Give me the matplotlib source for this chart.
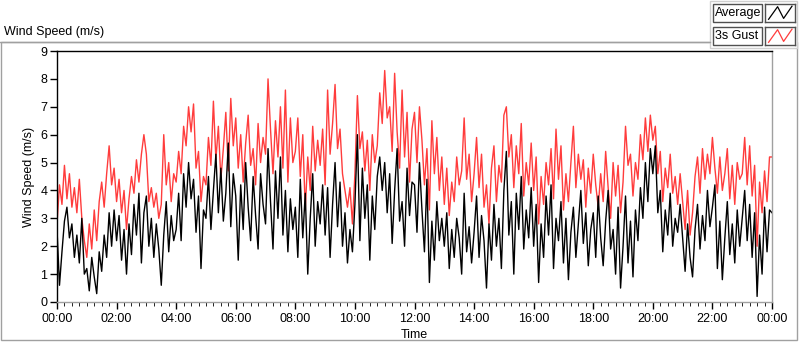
import matplotlib

matplotlib.use("Agg")
import matplotlib.pyplot as plt  # noqa: E402
import numpy as np  # noqa: E402
from matplotlib.lines import Line2D  # noqa: E402
from matplotlib.patches import Rectangle  # noqa: E402
from matplotlib.ticker import FuncFormatter, MultipleLocator  # noqa: E402

plt.rcParams["font.family"] = ["Liberation Sans", "DejaVu Sans"]

# one reading every 5 minutes, 00:00 -> 24:00
SAMPLE_MIN = 5
AVERAGE = [
    2.6, 0.6, 1.8, 2.9, 3.4, 2.3, 2.8, 1.6, 2.4, 1.4, 3.0, 1.0,  # 00h
    1.2, 0.4, 1.6, 0.9, 0.3, 1.8, 1.1, 2.4, 1.6, 3.2, 2.0, 3.3,  # 01h
    2.2, 3.1, 1.5, 2.6, 1.0, 2.8, 1.7, 3.5, 2.4, 3.9, 1.4, 3.2,  # 02h
    3.8, 2.0, 3.0, 1.6, 2.8, 1.9, 0.6, 2.4, 3.6, 1.8, 3.1, 2.2,  # 03h
    2.6, 3.9, 2.2, 4.6, 3.4, 5.0, 3.7, 4.4, 2.5, 3.8, 1.2, 3.3,  # 04h
    3.0, 4.5, 2.6, 4.0, 5.3, 3.2, 4.8, 2.9, 3.9, 5.7, 2.7, 4.6,  # 05h
    3.8, 1.5, 4.2, 2.6, 5.0, 3.4, 2.2, 4.5, 3.1, 1.9, 4.6, 3.5,  # 06h
    2.8, 5.5, 3.6, 1.9, 4.7, 3.0, 5.2, 2.4, 4.0, 1.8, 3.7, 2.6,  # 07h
    3.4, 1.6, 4.4, 2.3, 3.9, 1.0, 3.0, 4.6, 2.0, 3.6, 2.8, 4.2,  # 08h
    2.4, 4.1, 1.6, 3.5, 5.0, 2.7, 4.3, 2.0, 3.2, 1.4, 2.6, 1.8,  # 09h
    3.5, 6.0, 2.2, 4.8, 3.0, 4.2, 1.5, 3.8, 2.6, 4.5, 5.2, 4.0,  # 10h
    5.0, 3.2, 4.6, 2.1, 4.0, 5.5, 2.9, 3.6, 2.0, 4.8, 3.1, 4.3,  # 11h
    4.2, 2.5, 5.0, 3.3, 1.8, 4.4, 0.7, 2.9, 1.5, 3.6, 2.2, 3.0,  # 12h
    2.0, 3.2, 1.2, 2.6, 1.6, 3.0, 2.3, 1.0, 3.9, 1.8, 2.7, 1.4,  # 13h
    2.5, 3.8, 1.6, 3.1, 2.2, 0.5, 2.8, 1.5, 3.5, 2.0, 3.0, 1.2,  # 14h
    4.0, 5.4, 2.4, 3.6, 1.0, 3.9, 2.6, 4.5, 1.9, 3.3, 2.3, 4.1,  # 15h
    2.0, 3.5, 0.7, 2.8, 1.6, 3.8, 2.4, 4.2, 1.2, 3.0, 2.2, 3.6,  # 16h
    1.4, 3.0, 0.8, 2.5, 3.4, 1.6, 2.8, 4.0, 2.1, 3.2, 1.3, 2.6,  # 17h
    3.2, 1.6, 3.8, 2.3, 1.3, 2.9, 4.0, 1.9, 2.6, 1.0, 3.4, 0.5,  # 18h
    2.0, 3.8, 1.4, 2.9, 0.9, 3.3, 2.2, 4.1, 3.0, 5.0, 3.6, 5.5,  # 19h
    4.6, 5.6, 3.2, 4.0, 1.8, 3.3, 2.4, 3.9, 2.0, 3.0, 2.5, 3.5,  # 20h
    2.3, 1.1, 2.8, 1.6, 0.9, 2.6, 3.5, 1.9, 3.1, 2.2, 4.0, 2.7,  # 21h
    3.4, 4.2, 1.2, 2.9, 0.8, 2.3, 3.6, 1.7, 2.8, 1.4, 3.3, 2.0,  # 22h
    3.0, 4.0, 2.2, 3.5, 1.6, 3.2, 0.2, 2.4, 1.0, 3.4, 1.8, 3.3,  # 23h
    3.2,
]
GUST = [
    2.8, 4.2, 3.5, 4.9, 3.7, 4.6, 3.4, 4.1, 3.2, 4.4, 3.0, 2.2,  # 00h
    1.6, 2.8, 1.9, 3.3, 2.2, 3.6, 4.3, 3.4, 4.6, 5.6, 4.2, 4.8,  # 01h
    3.6, 4.4, 3.2, 4.0, 2.6, 3.7, 4.5, 3.9, 5.1, 4.3, 5.3, 6.0,  # 02h
    5.3, 3.6, 4.1, 3.4, 3.9, 3.0, 3.5, 6.0, 4.2, 5.0, 3.6, 4.6,  # 03h
    4.3, 5.4, 4.6, 6.3, 5.6, 7.0, 6.1, 7.1, 4.8, 5.4, 3.6, 4.5,  # 04h
    4.2, 5.9, 4.9, 7.2, 5.1, 6.3, 4.4, 5.5, 6.8, 4.7, 7.3, 5.6,  # 05h
    6.6, 4.8, 6.0, 4.3, 5.7, 6.7, 4.9, 5.5, 4.2, 6.4, 5.0, 5.9,  # 06h
    5.3, 8.0, 6.2, 4.6, 6.5, 5.2, 7.0, 4.8, 7.6, 4.3, 6.6, 5.0,  # 07h
    5.4, 6.6, 4.5, 6.0, 3.3, 5.2, 4.0, 6.3, 4.7, 5.8, 4.9, 6.2,  # 08h
    4.2, 7.6, 5.3, 6.4, 7.8, 5.5, 6.2, 4.6, 4.0, 3.4, 4.1, 2.8,  # 09h
    4.6, 7.4, 5.5, 6.1, 4.7, 5.8, 4.0, 6.0, 5.0, 5.6, 7.5, 6.4,  # 10h
    8.3, 6.6, 7.0, 5.4, 8.2, 6.1, 4.8, 7.6, 5.2, 6.8, 4.3, 6.2,  # 11h
    6.8, 5.0, 7.0, 5.8, 4.2, 5.5, 3.3, 6.5, 4.6, 5.9, 4.0, 5.2,  # 12h
    3.5, 4.8, 3.1, 4.3, 3.6, 5.2, 4.2, 4.7, 6.6, 4.4, 5.3, 3.6,  # 13h
    4.6, 5.9, 4.1, 5.3, 3.4, 4.2, 2.8, 4.8, 5.6, 3.6, 4.9, 4.3,  # 14h
    6.7, 7.0, 5.2, 6.0, 4.1, 5.6, 4.6, 6.4, 3.8, 5.0, 4.2, 5.7,  # 15h
    4.0, 5.2, 2.8, 4.5, 3.5, 5.0, 4.2, 5.5, 3.7, 6.2, 4.4, 5.6,  # 16h
    3.3, 4.6, 3.6, 5.0, 6.3, 4.1, 5.3, 4.4, 5.1, 3.4, 4.8, 3.9,  # 17h
    5.3, 4.2, 3.4, 4.6, 3.6, 5.4, 4.1, 3.0, 5.0, 3.8, 4.9, 3.2,  # 18h
    4.3, 6.3, 4.9, 5.3, 3.8, 5.0, 4.4, 6.0, 5.1, 6.6, 5.4, 6.7,  # 19h
    5.8, 6.3, 4.6, 5.4, 3.6, 4.8, 4.1, 5.3, 3.9, 4.5, 3.5, 4.6,  # 20h
    3.6, 2.6, 4.0, 2.4, 3.2, 4.5, 5.2, 3.9, 5.5, 4.4, 5.3, 4.6,  # 21h
    5.9, 4.8, 3.9, 5.2, 4.0, 4.6, 5.5, 3.7, 4.9, 3.5, 5.0, 4.4,  # 22h
    4.6, 5.9, 4.2, 5.6, 3.8, 4.9, 2.0, 4.3, 3.2, 4.7, 3.6, 5.2,  # 23h
    5.2,
]
SERIES = ["Average", "3s Gust"]
COLORS = ["black", "#ff3c3c"]
YTICKS = list(range(0, 10))
HOUR_STEP = 2

# little "/\/" glyph shown in the legend swatches
GLYPH_X = [0.12, 0.42, 0.62, 0.9]
GLYPH_Y = [0.15, 0.85, 0.2, 0.88]

W, H = 800, 342
FRAME = "#a0a0a0"


def fx(x):
    return x / W


def fy(y):
    return 1 - y / H


t = np.arange(len(AVERAGE)) * SAMPLE_MIN / 60.0

fig = plt.figure(figsize=(W / 100, H / 100), dpi=100)

# outer panel frame
fig.add_artist(Rectangle((fx(0.5), fy(340)), fx(797) - fx(0.5), fy(42) - fy(340),
                         transform=fig.transFigure, fill=False, edgecolor=FRAME, lw=1,
                         zorder=-2))
fig.text(fx(4), fy(32), "Wind Speed (m/s)", fontsize=9, ha="left", va="center")

ax = fig.add_axes([fx(57), fy(302), fx(772) - fx(57), fy(51) - fy(302)])
ax.plot(t, GUST, color=COLORS[1], lw=1.0)
ax.plot(t, AVERAGE, color=COLORS[0], lw=1.0)
ax.set_xlim(0, 24)
ax.set_ylim(0, 9)
ax.set_yticks(YTICKS)
ax.xaxis.set_major_locator(MultipleLocator(HOUR_STEP))
ax.xaxis.set_minor_locator(MultipleLocator(0.25))
ax.xaxis.set_major_formatter(FuncFormatter(lambda v, _: f"{int(v) % 24:02d}:00"))
ax.tick_params(axis="both", labelsize=9, color="black", width=1)
ax.tick_params(axis="x", which="major", length=5, pad=3)
ax.tick_params(axis="x", which="minor", length=3)
ax.tick_params(axis="y", length=5, pad=2)
ax.set_ylabel("Wind Speed (m/s)", fontsize=9, labelpad=4)
ax.set_xlabel("Time", fontsize=9, labelpad=3)
ax.spines["top"].set_color("black")
ax.spines["left"].set_color("black")
ax.spines["right"].set_color(FRAME)
ax.spines["bottom"].set_color(FRAME)
for s in ax.spines.values():
    s.set_linewidth(1)

# legend panel, top right
fig.add_artist(Rectangle((fx(710), fy(48)), fx(797) - fx(710), fy(1) - fy(48),
                         transform=fig.transFigure, facecolor="white", edgecolor="#d0d0d0",
                         lw=1, zorder=-1))
fig.add_artist(Line2D([fx(0), fx(710)], [fy(42), fy(42)], transform=fig.transFigure,
                      color=FRAME, lw=1, zorder=-1))
for k, (name, col) in enumerate(zip(SERIES, COLORS)):
    top = 4 + k * 23
    fig.add_artist(Rectangle((fx(713), fy(top + 18)), fx(49), 18 / H, transform=fig.transFigure,
                             facecolor="white", edgecolor="#505050", lw=1))
    fig.text(fx(715), fy(top + 9), name, fontsize=9, ha="left", va="center")
    iax = fig.add_axes([fx(765), fy(top + 18), fx(30), 18 / H])
    iax.plot(GLYPH_X, GLYPH_Y, color=col, lw=0.9)
    iax.set_xlim(0, 1)
    iax.set_ylim(0, 1)
    iax.set_xticks([])
    iax.set_yticks([])
    for s in iax.spines.values():
        s.set_color("#505050")
        s.set_linewidth(1)

fig.savefig("out.png", dpi=100)
